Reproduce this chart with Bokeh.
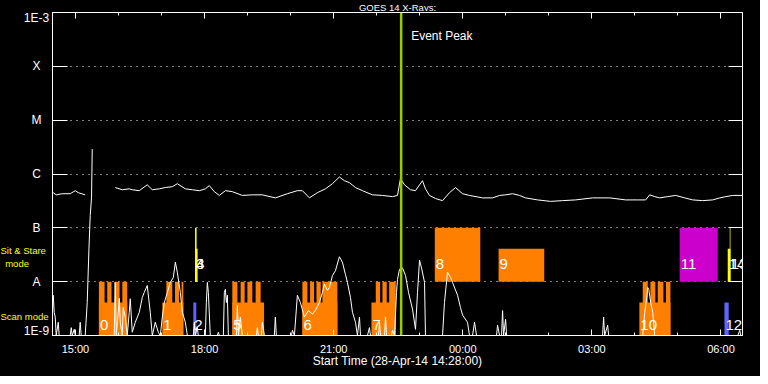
from bokeh.plotting import figure
from bokeh.layouts import row, column
from bokeh.models import (FixedTicker, LinearAxis, LogAxis, Range1d, Span, Label,
                          LabelSet, ColumnDataSource)
from bokeh.embed import file_html
from bokeh.resources import INLINE
from bokeh.core.properties import value

nan = float("nan")

# ---------------- data ----------------
# time axis: minutes after start time 28-Apr-14 14:28:00
t_start, t_end = 0.0, 962.0
flux_min, flux_max = 1e-9, 1e-3

ytick_vals = [1e-9, 1e-8, 1e-7, 1e-6, 1e-5, 1e-4, 1e-3]
ytick_labels = ["1E-9", "A", "B", "C", "M", "X", "1E-3"]
ygrid_vals = [1e-8, 1e-7, 1e-6, 1e-5, 1e-4]

xtick_vals = [32, 212, 392, 572, 752, 932]
xtick_labels = ["15:00", "18:00", "21:00", "00:00", "03:00", "06:00"]
xminor_vals = [92, 152, 272, 332, 452, 512, 632, 692, 812, 872]

event_peak_t = 486.1

# GOES 14 long channel (1-8 A)
long_t = [1.0, 5.2, 13.5, 24.7, 31.7, 35.9, 45.6, nan,
          87.5, 97.3, 107.0, 111.2, 121.0, 132.1, 139.1, 148.9, 157.3, 167.0,
          174.0, 185.2, 194.9, 204.7, 213.1, 218.6, 225.6, 232.6, 241.0, 250.7,
          264.7, 278.6, 292.6, 310.7, 327.5, 341.4, 348.4, 358.2, 369.3, 380.5,
          390.3, 400.0, 407.0, 414.0, 422.4, 432.1, 446.1, 460.0, 474.0, 481.0,
          485.1, 490.7, 499.1, 506.1, 515.8, 520.0, 525.6, 534.0, 543.8, 553.5,
          561.9, 571.7, 581.4, 599.6, 613.5, 623.3, 631.7, 641.4, 651.2, 659.6,
          676.3, 694.4, 711.2, 729.3, 753.1, 776.8, 799.1, 815.8, 827.0, 832.6,
          839.6, 846.5, 857.7, 868.9, 881.4, 892.6, 906.5, 920.5, 930.3, 938.6,
          948.4, 962.3]
long_f = [4.5e-7, 4.1e-7, 4.3e-7, 4.3e-7, 4.9e-7, 4.5e-7, 4.1e-7, nan,
          5.6e-7, 5.1e-7, 5.3e-7, 5.1e-7, 4.9e-7, 6.3e-7, 5.1e-7, 5.3e-7, 5.6e-7, 5.8e-7,
          6.6e-7, 5.3e-7, 5.1e-7, 4.9e-7, 5.3e-7, 6.1e-7, 4.7e-7, 4.0e-7, 4.9e-7, 4.7e-7,
          4.0e-7, 4.1e-7, 4.1e-7, 3.6e-7, 4.3e-7, 4.9e-7, 4.9e-7, 3.6e-7, 4.5e-7, 5.3e-7,
          6.6e-7, 8.8e-7, 7.5e-7, 6.9e-7, 5.6e-7, 4.9e-7, 4.1e-7, 4.0e-7, 3.8e-7, 4.0e-7,
          8.2e-7, 6.3e-7, 5.1e-7, 4.9e-7, 7.5e-7, 5.3e-7, 4.0e-7, 3.5e-7, 3.2e-7, 4.5e-7,
          5.6e-7, 4.3e-7, 4.0e-7, 3.6e-7, 3.6e-7, 4.0e-7, 4.1e-7, 4.3e-7, 4.0e-7, 3.6e-7,
          3.3e-7, 3.1e-7, 3.2e-7, 3.3e-7, 3.6e-7, 3.6e-7, 3.3e-7, 3.3e-7, 3.3e-7, 4.1e-7,
          3.8e-7, 3.6e-7, 3.8e-7, 4.0e-7, 3.6e-7, 3.3e-7, 3.2e-7, 3.3e-7, 3.6e-7, 3.8e-7,
          4.0e-7, 4.0e-7]

# GOES 14 short channel (0.5-4 A)
short_t = [0.0, 1.0, 2.4, 3.8, 5.2, 8.0, 9.3, 24.7, 26.1, 27.5, 30.3, 31.7, 37.2, 38.6,
           40.0, 45.6, 48.4, 50.8, 52.6, 54.4, 55.4, nan,
           86.1, 87.5, 88.9, 91.7, 93.1, 94.5, 97.3, 98.6, 101.4, 104.2, 107.0, 108.4,
           111.2, 115.4, 121.0, 125.2, 127.9, 132.1, 136.3, 139.1, 143.3, 147.5, 150.3,
           153.1, 155.9, 160.1, 164.3, 168.5, 171.3, 174.0, 178.2, 181.0, 185.2, 188.0,
           196.3, 197.7, 199.1, 201.9, 203.3, 213.1, 214.5, 215.9, 217.3, 220.0, 229.8,
           231.2, 232.6, 238.2, 239.6, 241.0, 242.4, 243.8, 245.2, 256.4, 257.8, 259.2,
           261.9, 264.7, 284.2, 285.6, 287.0, 291.2, 292.6, 295.4, 309.3, 310.7, 312.1,
           333.1, 334.5, 337.3, 341.4, 345.6, 351.2, 356.8, 362.4, 366.5, 372.1, 376.3,
           379.1, 383.3, 386.1, 390.3, 394.5, 400.0, 404.2, 408.4, 411.2, 415.4, 418.2,
           422.4, 425.2, 428.0, 429.4, 439.1, 441.9, 443.3, 454.5, 455.9, 457.3, 462.9,
           464.3, 465.7, 472.6, 474.0, 476.8, 479.6, 481.0, 483.8, 488.0, 492.2, 496.4,
           501.9, 506.1, 508.9, 511.7, 514.5, 518.7, 520.0, 543.8, 546.5, 550.7, 554.9,
           557.7, 564.7, 568.8, 571.7, 578.6, 581.4, 585.6, 588.4, 591.2, 619.1, 620.5,
           623.3, 626.1, 627.5, 628.9, 631.7, 633.1, 766.9, 768.4, 769.8, 774.0, 775.4,
           822.9, 825.7, 828.5, 829.9, 831.3, 834.0, 836.8, 839.6, 955.4, 958.2, 959.6,
           962.3]
short_f = [2.9e-9, 5.6e-9, 2.7e-9, 2.2e-9, 1e-9, 1.76e-9, 1e-9, 1e-9, 1.4e-9, 1e-9, 1.3e-9,
           1e-9, 1e-9, 1.76e-9, 1e-9, 1e-9, 4.1e-9, 4.0e-8, 1.7e-7, 3.6e-7, 2.9e-6, nan,
           1e-9, 9.7e-9, 1e-9, 2.7e-9, 4.9e-9, 1.76e-9, 1e-9, 3.3e-9, 2.2e-9, 1e-9, 2.7e-9,
           4.8e-9, 1.15e-9, 1.76e-9, 2.7e-9, 5.1e-9, 6.3e-9, 8.5e-9, 2.7e-9, 1e-9, 1.76e-9,
           1.15e-9, 1e-9, 2.2e-9, 4.1e-9, 6.3e-9, 9.7e-9, 1.2e-8, 2.3e-8, 1.5e-8, 6.3e-9,
           2.7e-9, 1.76e-9, 1e-9, 1e-9, 1.76e-9, 1e-9, 1.4e-9, 1e-9, 1e-9, 4.1e-9, 9.7e-9,
           6.3e-9, 1e-9, 1e-9, 1.15e-9, 1e-9, 1e-9, 6.3e-9, 7.2e-9, 4.1e-9, 5.6e-9, 1e-9,
           1e-9, 3.6e-9, 1e-9, 2.2e-9, 1e-9, 1e-9, 1.4e-9, 1e-9, 1e-9, 1.76e-9, 1e-9, 1e-9,
           2.2e-9, 1e-9, 1e-9, 1.25e-9, 1e-9, 5.6e-9, 4.1e-9, 2.2e-9, 2.9e-9, 2.5e-9,
           2.9e-9, 4.1e-9, 6.3e-9, 8.9e-9, 6.9e-9, 7.8e-9, 1.3e-8, 1.6e-8, 2.9e-8, 2.3e-8,
           1.36e-8, 9.7e-9, 5.1e-9, 2.7e-9, 1.76e-9, 1e-9, 2.2e-9, 1e-9, 1e-9, 1.4e-9, 1e-9,
           1e-9, 1.76e-9, 1e-9, 1e-9, 2.2e-9, 1e-9, 1e-9, 1.25e-9, 1e-9, 6.3e-9, 1.1e-8,
           1.7e-8, 1.8e-8, 1.3e-8, 6.3e-9, 3.1e-9, 1.3e-9, 6.3e-9, 2.5e-8, 1.8e-8, 9.7e-9,
           1e-9, 1e-9, 4.1e-9, 1.5e-8, 1.2e-8, 9.7e-9, 5.6e-9, 3.3e-9, 2.4e-9, 1.76e-9, 1e-9,
           1e-9, 1.76e-9, 1e-9, 1e-9, 1.55e-9, 1e-9, 1e-9, 2.9e-9, 1e-9, 2.0e-9, 1e-9, 1e-9,
           2.2e-9, 1e-9, 1.55e-9, 1e-9, 1e-9, 2.7e-9, 5.1e-9, 7.8e-9, 7.2e-9, 4.1e-9, 2.7e-9,
           1e-9, 1e-9, 1.25e-9, 1e-9, 1e-9]

# Scan mode blocks
scan_ids = ["0", "1", "2", "5", "6", "7", "10", "12"]
scan_kind = ["raster", "raster", "single", "raster", "raster", "raster", "raster", "single"]
scan_start = [64.7, 153.1, 196.3, 250.7, 348.4, 444.7, 818.2, 936.8]
scan_end = [104.2, 182.4, 200.5, 295.0, 397.2, 478.6, 861.5, 942.8]
scan_level = 4.1e-9
# raster steps reaching the top of the scan band
step_start = [64.7, 76.3, 86.5, 97.3, 158.7, 170.8, 180.0, 250.7, 262.3, 271.7, 283.2,
              348.4, 359.1, 368.0, 376.3, 450.7, 460.0, 469.4, 822.9, 833.6, 843.8, 855.3]
step_end = [72.6, 82.3, 93.5, 104.2, 167.0, 176.4, 182.4, 257.8, 267.9, 278.6, 290.2,
            355.4, 364.7, 374.0, 397.2, 456.8, 466.0, 478.6, 829.9, 840.5, 851.7, 861.5]
step_level = 1e-8

# Sit & Stare blocks
ss_ids = ["3", "4", "8", "9", "11", "13", "14"]
ss_kind = ["short", "short", "long", "long", "medium", "short", "short"]
ss_start = [198.7, 198.7, 533.0, 621.9, 874.4, 944.2, 941.4]
ss_end = [200.9, 202.3, 596.4, 685.6, 927.5, 945.2, 945.2]
ss_top = [1e-7, 4.1e-8, 1e-7, 4.1e-8, 1e-7, 1e-7, 4.1e-8]
ss_bottom = 1e-8

title_text = "GOES 14 X-Rays:"
xlabel_text = "Start Time (28-Apr-14 14:28:00)"
mode_texts = ["Sit & Stare", "mode", "Scan mode"]
mode_text_y = [3.8e-8, 2.2e-8, 2.3e-9]

# ---------------- layout / styling ----------------
FONT = "Liberation Sans"
ORANGE = "#ff8000"
scan_colors = {"raster": ORANGE, "single": "#6262ff"}
ss_colors = {"short": "#ffff00", "long": ORANGE, "medium": "#cc00cc"}

TOTAL_W = 760
LEFT_W = 50          # label strip at the left
MAIN_W = TOTAL_W - LEFT_W
TITLE_H = 11
MAIN_H = 365
B_LEFT, B_RIGHT, B_TOP, B_BOTTOM = 2, 18, 1, 41
FRAME_W = MAIN_W - B_LEFT - B_RIGHT


def dark(fig):
    fig.background_fill_color = "black"
    fig.border_fill_color = "black"
    return fig


# ---- main plot ----
p = dark(figure(width=MAIN_W, height=MAIN_H, x_range=Range1d(t_start, t_end),
                y_range=Range1d(flux_min, flux_max), y_axis_type="log",
                output_backend="svg", toolbar_location=None,
                min_border_left=B_LEFT, min_border_right=B_RIGHT,
                min_border_top=B_TOP, min_border_bottom=B_BOTTOM,
                outline_line_color="white"))

p.xgrid.visible = False
p.ygrid.ticker = FixedTicker(ticks=ygrid_vals)
p.ygrid.grid_line_color = "white"
p.ygrid.grid_line_dash = "1 5"
p.ygrid.grid_line_width = 1

xa = p.xaxis[0]
xa.ticker = FixedTicker(ticks=xtick_vals, minor_ticks=xminor_vals)
xa.major_label_overrides = dict(zip(xtick_vals, xtick_labels))
xa.major_tick_in = 6
xa.major_tick_out = 0
xa.minor_tick_in = 3
xa.minor_tick_out = 0
for attr in ("axis_line_color", "major_tick_line_color", "minor_tick_line_color"):
    setattr(xa, attr, "white")
xa.major_label_text_color = "white"
xa.major_label_text_font = FONT
xa.major_label_text_font_size = "11px"
xa.major_label_standoff = 7
xa.axis_label = xlabel_text
xa.axis_label_text_color = "white"
xa.axis_label_text_font = FONT
xa.axis_label_text_font_size = "12px"
xa.axis_label_text_font_style = "normal"
xa.axis_label_standoff = -4

top = LinearAxis(ticker=FixedTicker(ticks=xtick_vals, minor_ticks=xminor_vals),
                 major_tick_in=6, major_tick_out=0, minor_tick_in=3, minor_tick_out=0,
                 axis_line_color="white", major_tick_line_color="white",
                 minor_tick_line_color="white", major_label_text_font_size="1px",
                 major_label_text_color=None, major_label_standoff=0)
p.add_layout(top, "above")

ya = p.yaxis[0]
ya.ticker = FixedTicker(ticks=ytick_vals)
ya.major_tick_in = 15
ya.major_tick_out = 0
ya.minor_tick_line_color = None
ya.axis_line_color = "white"
ya.major_tick_line_color = "white"
ya.major_label_text_font_size = "1px"
ya.major_label_text_color = None
ya.major_label_standoff = 0

right = LogAxis(ticker=FixedTicker(ticks=ytick_vals), major_tick_in=14, major_tick_out=0,
                minor_tick_line_color=None, axis_line_color="white",
                major_tick_line_color="white", major_label_text_font_size="1px",
                major_label_text_color=None, major_label_standoff=0)
p.add_layout(right, "right")

# scan blocks
scan_src = ColumnDataSource(dict(left=scan_start, right=scan_end,
                                 color=[scan_colors[k] for k in scan_kind]))
p.quad(left="left", right="right", bottom=flux_min, top=scan_level, source=scan_src,
       fill_color="color", line_color=None)
p.quad(left=step_start, right=step_end, bottom=flux_min, top=step_level,
       fill_color=ORANGE, line_color=None)

# sit & stare blocks
ss_src = ColumnDataSource(dict(left=ss_start, right=ss_end, top=ss_top,
                               color=[ss_colors[k] for k in ss_kind]))
p.quad(left="left", right="right", bottom=ss_bottom, top="top", source=ss_src,
       fill_color="color", line_color=None)

# light curves
p.line(long_t, long_f, line_color="white", line_width=1)
p.line(short_t, short_f, line_color="white", line_width=1)

# event peak
p.add_layout(Span(location=event_peak_t, dimension="height", line_color="#99cc00",
                  line_width=2.5))
p.add_layout(Label(x=event_peak_t, y=flux_max, x_offset=10, y_offset=-23,
                   text="Event Peak", text_color="white", text_font=FONT,
                   text_font_size="12px", text_baseline="alphabetic"))

# block numbers
lab_x = scan_start + ss_start
lab_y = [1.55e-9] * len(scan_start) + [2.1e-8] * len(ss_start)
lab_src = ColumnDataSource(dict(x=lab_x, y=lab_y, text=scan_ids + ss_ids))
p.add_layout(LabelSet(x="x", y="y", text="text", source=lab_src, x_offset=1,
                      text_align="left", text_baseline="middle", text_color="white",
                      text_font=value(FONT), text_font_size="15px"))

# ---- left strip: y tick labels and mode labels (shares the flux scale) ----
lf = dark(figure(width=LEFT_W, height=MAIN_H, x_range=Range1d(0, LEFT_W),
                 y_range=p.y_range, y_axis_type="log",
                 x_axis_location=None, y_axis_location=None,
                 output_backend="svg", toolbar_location=None,
                 min_border_left=0, min_border_right=0,
                 min_border_top=B_TOP, min_border_bottom=B_BOTTOM,
                 outline_line_color=None))
lf.grid.visible = False
label_center = LEFT_W + B_LEFT - 16
ylab_src = ColumnDataSource(dict(x=[label_center] * len(ytick_vals), y=ytick_vals,
                                 text=ytick_labels,
                                 dy=[-5, 0, 0, 0, 0, 0, 5]))
lf.text(x="x", y="y", text="text", source=ylab_src, y_offset="dy",
        text_align="center", text_baseline="middle", text_color="white",
        text_font=value(FONT), text_font_size="12px")
mode_src = ColumnDataSource(dict(x=[0, 4.7, 0], y=mode_text_y, text=mode_texts))
lf.text(x="x", y="y", text="text", source=mode_src, text_align="left",
        text_baseline="middle", text_color="#ffff00", text_font=value(FONT),
        text_font_size="9.5px")

# ---- title strip ----
tf = dark(figure(width=TOTAL_W, height=TITLE_H, x_range=Range1d(0, TOTAL_W),
                 y_range=Range1d(0, TITLE_H), x_axis_location=None,
                 y_axis_location=None, output_backend="svg", toolbar_location=None,
                 min_border=0, min_border_left=0, min_border_right=0,
                 min_border_top=0, min_border_bottom=0, outline_line_color=None))
tf.grid.visible = False
tf.text(x=[LEFT_W + B_LEFT + FRAME_W / 2.0], y=[TITLE_H / 2.0], text=[title_text],
        text_align="center", text_baseline="middle", text_color="white",
        text_font=value(FONT), text_font_size="9.5px")

layout = column(tf, row(lf, p, spacing=0), spacing=0,
                styles={"background-color": "black"})

open("out.html", "w").write(file_html(layout, INLINE))
